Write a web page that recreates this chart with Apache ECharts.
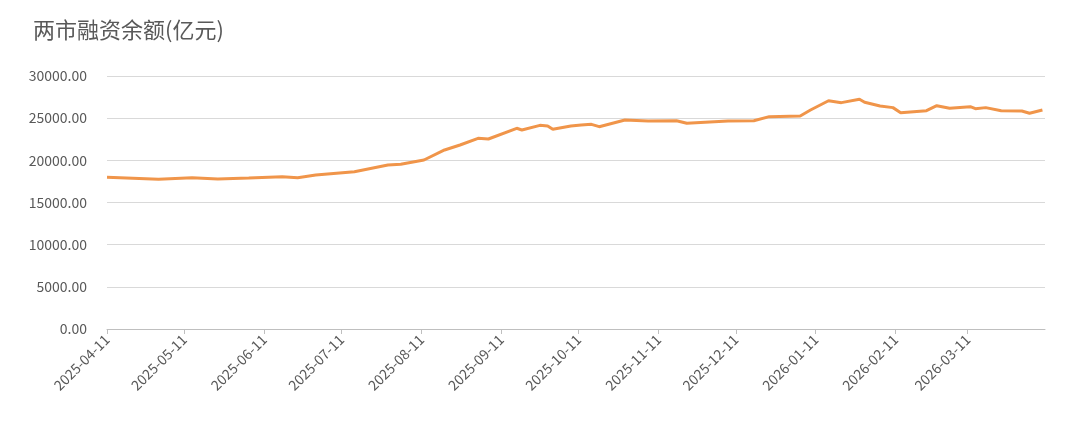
<!DOCTYPE html>
<html>
<head>
<meta charset="utf-8">
<script src="https://cdn.jsdelivr.net/npm/echarts@6/dist/echarts.min.js"></script>
<style>html,body{margin:0;padding:0;background:#fff}#main{width:1080px;height:430px}</style>
</head>
<body>
<div id="main"></div>
<script>
// readings of the balance (亿元) on sampled dates
var dates = ['2025-04-11','2025-05-01','2025-05-14','2025-05-24','2025-06-05','2025-06-18','2025-06-24',
    '2025-07-01','2025-07-16','2025-07-29','2025-08-03','2025-08-12','2025-08-20','2025-08-26','2025-09-02',
    '2025-09-06','2025-09-17','2025-09-19','2025-09-26','2025-09-29','2025-10-01','2025-10-08','2025-10-12',
    '2025-10-16','2025-10-19','2025-10-29','2025-11-07','2025-11-18','2025-11-22','2025-12-08','2025-12-18',
    '2025-12-24','2026-01-05','2026-01-09','2026-01-16','2026-01-21','2026-01-28','2026-01-30','2026-02-05',
    '2026-02-10','2026-02-13','2026-02-23','2026-02-27','2026-03-04','2026-03-12','2026-03-14','2026-03-18',
    '2026-03-24','2026-04-01','2026-04-04','2026-04-09'];
var values = [17990,17750,17940,17790,17900,18060,17940,
    18260,18650,19450,19530,20040,21230,21820,22610,
    22530,23800,23600,24150,24070,23680,24070,24190,
    24270,23990,24780,24660,24700,24390,24660,24700,
    25180,25260,25970,27070,26840,27240,26880,26440,
    26250,25650,25890,26480,26170,26360,26120,26250,
    25890,25850,25580,25970];
var startDate = '2025-04-11';
var endDate = '2026-04-10';

function fmt(d) {
    var m = d.getMonth() + 1, day = d.getDate();
    return d.getFullYear() + '-' + (m < 10 ? '0' + m : m) + '-' + (day < 10 ? '0' + day : day);
}

var days = [];
for (var t = new Date(startDate + 'T00:00:00'); fmt(t) <= endDate; t.setDate(t.getDate() + 1)) {
    days.push(fmt(t));
}
var lookup = {};
dates.forEach(function (d, i) { lookup[d] = values[i]; });
var seriesData = days.map(function (d) { return lookup[d] === undefined ? null : lookup[d]; });

var chart = echarts.init(document.getElementById('main'));
chart.setOption({
    backgroundColor: '#fff',
    animation: false,
    title: {
        text: '两市融资余额(亿元)',
        left: 28,
        top: 14,
        textStyle: {fontSize: 22, fontWeight: 'normal', color: '#595959', fontFamily: 'Noto Sans CJK SC'}
    },
    grid: {left: 107, right: 35, top: 76, bottom: 101},
    xAxis: {
        type: 'category',
        data: days,
        boundaryGap: false,
        axisLine: {lineStyle: {color: '#bfbfbf'}},
        axisTick: {
            interval: function (i, v) { return v.slice(8) === '11'; },
            lineStyle: {color: '#bfbfbf'}, length: 5
        },
        axisLabel: {
            interval: function (i, v) { return v.slice(8) === '11'; },
            rotate: 45,
            color: '#595959',
            fontSize: 14,
            fontFamily: 'Noto Sans CJK SC'
        }
    },
    yAxis: {
        type: 'value',
        min: 0,
        max: 30000,
        interval: 5000,
        axisLine: {show: false},
        axisTick: {show: false},
        splitLine: {lineStyle: {color: '#d9d9d9'}},
        axisLabel: {
            color: '#595959',
            fontSize: 14,
            fontFamily: 'Noto Sans CJK SC',
            margin: 20,
            formatter: function (v) { return v.toFixed(2); }
        }
    },
    series: [{
        type: 'line',
        data: seriesData,
        connectNulls: true,
        showSymbol: false,
        lineStyle: {color: '#f0954a', width: 3},
        itemStyle: {color: '#f0954a'}
    }]
});
</script>
</body>
</html>
